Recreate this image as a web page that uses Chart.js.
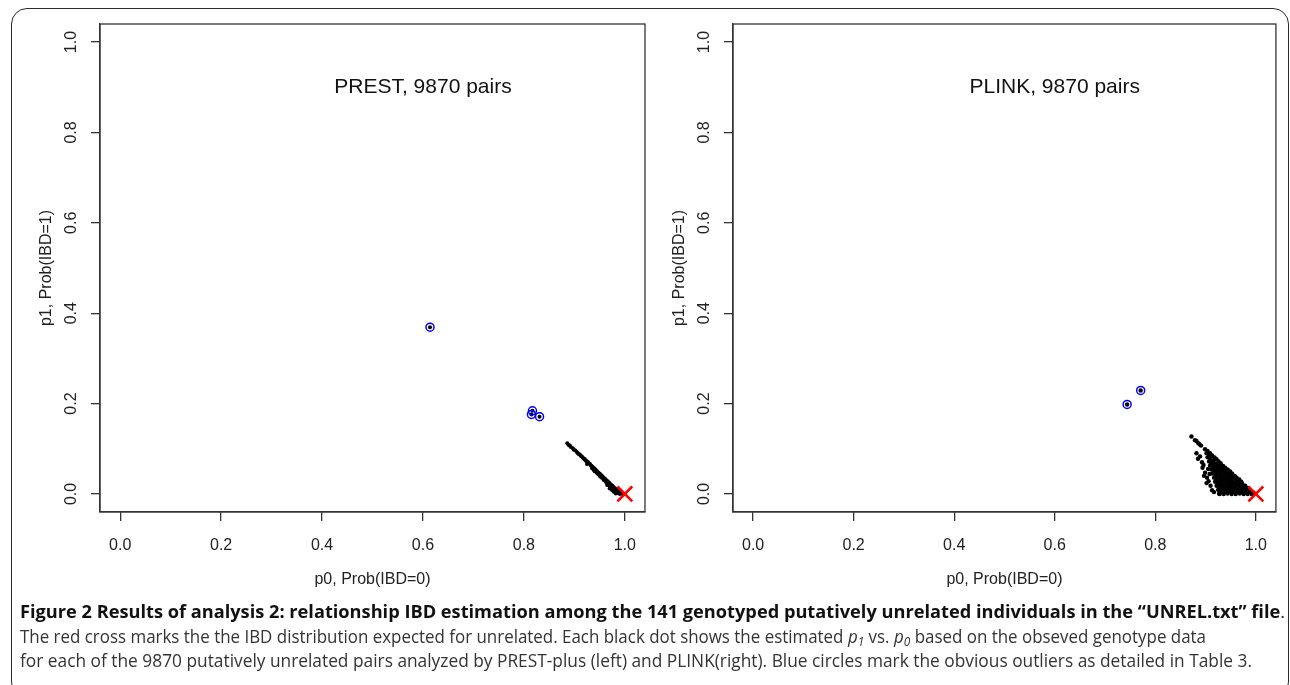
<!DOCTYPE html>
<html><head><meta charset="utf-8">
<script src="https://cdn.jsdelivr.net/npm/chart.js@4.4.1/dist/chart.umd.min.js"></script>
<style>
html,body{margin:0;padding:0;background:#fff;width:1290px;height:685px;overflow:hidden;position:relative;}
#frame{position:absolute;left:11px;top:8px;width:1278px;height:690px;border:1.6px solid #2b2b2b;border-radius:16px;box-sizing:border-box;}
canvas{position:absolute;top:0;}
#c1{left:0;}
#c2{left:633px;}
.cap{position:absolute;left:20px;white-space:nowrap;font-family:"Liberation Sans Narrow","Open Sans",sans-serif;font-size:18.5px;line-height:20px;color:#333;transform-origin:0 0;}
.cap b{color:#111;}
.cap sub{font-size:70%;vertical-align:-3px;line-height:0;}
</style></head><body>
<div id="frame"></div>
<canvas id="c1" width="660" height="600"></canvas>
<canvas id="c2" width="656" height="600"></canvas>
<div class="cap" id="l1" style="top:601px;"><b>Figure 2 Results of analysis 2: relationship IBD estimation among the 141 genotyped putatively unrelated individuals in the “UNREL.txt” file</b>.</div>
<div class="cap" id="l2" style="top:626px;">The red cross marks the the IBD distribution expected for unrelated. Each black dot shows the estimated <i>p</i><sub><i>1</i></sub> vs. <i>p</i><sub><i>0</i></sub> based on the obseved genotype data</div>
<div class="cap" id="l3" style="top:650px;">for each of the 9870 putatively unrelated pairs analyzed by PREST-plus (left) and PLINK(right). Blue circles mark the obvious outliers as detailed in Table 3.</div>
<script>
// ---------- data ----------
const tickValues = [0, 0.2, 0.4, 0.6, 0.8, 1.0];
const panelTitles = ["PREST, 9870 pairs", "PLINK, 9870 pairs"];
const xAxisTitle = "p0, Prob(IBD=0)";
const yAxisTitle = "p1, Prob(IBD=1)";

// expected IBD for unrelated pairs (red cross)
const expectedP0 = [1.0];
const expectedP1 = [0.0];

// PREST-plus: all pairs (black dots)
const prestP0 = [0.886,0.889,0.891,0.893,0.897,0.899,0.902,0.905,0.907,0.909,0.911,0.913,0.915,0.917,0.919,0.921,0.922,0.924,0.926,0.928,0.929,0.931,0.933,0.934,0.936,0.937,0.939,0.940,0.942,0.943,0.945,0.946,0.948,0.949,0.951,0.952,0.954,0.955,0.957,0.958,0.960,0.961,0.963,0.964,0.966,0.967,0.969,0.970,0.972,0.973,0.975,0.976,0.978,0.979,0.981,0.982,0.984,0.985,0.987,0.988,0.990,0.992,0.994,0.996,0.998,
  0.925,0.935,0.940,0.945,0.950,0.955,0.958,0.962,0.965,0.968,0.971,0.974,0.977,0.980,0.983,0.986,0.975,0.965,0.970,0.978,0.982,0.990,0.960,0.952,0.947,0.938,
  0.614,0.817,0.815,0.831];
const prestP1 = [0.112,0.108,0.107,0.104,0.101,0.098,0.096,0.093,0.090,0.088,0.087,0.084,0.083,0.080,0.078,0.077,0.074,0.073,0.071,0.069,0.067,0.066,0.063,0.062,0.060,0.058,0.057,0.055,0.054,0.052,0.050,0.049,0.047,0.045,0.044,0.042,0.041,0.039,0.037,0.036,0.034,0.033,0.031,0.029,0.028,0.026,0.025,0.023,0.021,0.020,0.018,0.017,0.015,0.013,0.012,0.010,0.008,0.007,0.005,0.004,0.003,0.002,0.001,0.000,0.000,
  0.066,0.057,0.050,0.046,0.040,0.035,0.031,0.027,0.024,0.020,0.017,0.014,0.011,0.008,0.005,0.002,0.008,0.020,0.012,0.005,0.001,0.000,0.030,0.038,0.044,0.054,
  0.369,0.184,0.176,0.171];
// PREST-plus: obvious outliers (blue circles)
const prestOutP0 = [0.614, 0.817, 0.815, 0.831];
const prestOutP1 = [0.369, 0.184, 0.176, 0.171];

// PLINK: all pairs (black dots)
const plinkP0 = [0.872,0.879,0.882,0.885,0.888,0.891,
  0.882,0.885,0.889,0.893,0.896,0.894,0.899,0.897,0.903,0.906,0.902,0.910,0.913,0.917,0.908,0.905,0.927,
  0.928,0.936,0.944,0.952,0.960,0.968,0.976,0.984,0.992,0.998,
  0.931,0.939,0.947,0.955,0.963,0.971,0.979,0.987,0.994,
  0.925,0.933,0.941,0.949,0.957,0.965,0.973,0.981,0.988,
  0.928,0.936,0.944,0.952,0.960,0.968,0.976,0.984,
  0.922,0.930,0.938,0.946,0.954,0.962,0.970,0.979,
  0.925,0.933,0.941,0.949,0.957,0.965,0.973,
  0.919,0.927,0.935,0.943,0.951,0.959,0.966,0.971,
  0.922,0.930,0.938,0.946,0.954,0.962,0.967,
  0.917,0.925,0.933,0.941,0.949,0.956,0.962,
  0.920,0.928,0.936,0.944,0.952,0.958,
  0.914,0.922,0.930,0.938,0.946,0.953,
  0.917,0.925,0.933,0.941,0.949,
  0.912,0.920,0.928,0.936,0.944,
  0.915,0.923,0.931,0.939,
  0.909,0.917,0.925,0.935,
  0.912,0.920,0.930,
  0.907,0.915,0.926,
  0.910,0.918,0.922,
  0.904,0.911,0.918,
  0.907,0.913,
  0.902,0.909,
  0.904,
  0.899,
  0.744,0.771];
const plinkP1 = [0.127,0.119,0.117,0.113,0.110,0.107,
  0.090,0.078,0.083,0.070,0.064,0.058,0.047,0.040,0.036,0.028,0.024,0.018,0.008,0.004,0.044,0.055,0.001,
  0.000,0.000,0.001,0.000,0.000,0.001,0.000,0.000,0.000,0.001,
  0.005,0.004,0.005,0.004,0.005,0.004,0.005,0.004,0.004,
  0.009,0.010,0.009,0.008,0.010,0.009,0.009,0.010,0.009,
  0.014,0.013,0.014,0.013,0.014,0.013,0.014,0.013,
  0.018,0.019,0.018,0.017,0.018,0.019,0.018,0.018,
  0.023,0.022,0.023,0.022,0.023,0.022,0.023,
  0.027,0.026,0.028,0.027,0.027,0.026,0.028,0.027,
  0.032,0.031,0.032,0.031,0.032,0.031,0.032,
  0.036,0.037,0.036,0.035,0.036,0.037,0.036,
  0.041,0.040,0.041,0.040,0.041,0.040,
  0.045,0.046,0.045,0.044,0.045,0.045,
  0.050,0.049,0.050,0.049,0.050,
  0.054,0.055,0.054,0.053,0.054,
  0.059,0.058,0.059,0.058,
  0.063,0.064,0.063,0.062,
  0.068,0.067,0.068,
  0.072,0.073,0.072,
  0.077,0.076,0.077,
  0.081,0.082,0.081,
  0.086,0.085,
  0.090,0.090,
  0.095,
  0.099,
  0.198,0.229];
// PLINK: obvious outliers (blue circles)
const plinkOutP0 = [0.744, 0.771];
const plinkOutP1 = [0.198, 0.229];

// ---------- drawing ----------
const FONT = '"Liberation Sans", Arial, Helvetica, sans-serif';
const INK = '#222';
const LINE = '#333';
const pts = (xs, ys) => xs.map((v, i) => ({x: v, y: ys[i]}));

const boxPlugin = {
  id: 'rbox',
  afterDatasetsDraw(chart) {
    const a = chart.chartArea, ctx = chart.ctx;
    ctx.save();
    ctx.strokeStyle = LINE; ctx.lineWidth = 1.3;
    ctx.strokeRect(a.left, a.top, a.right - a.left, a.bottom - a.top);
    ctx.restore();
  }
};
const labelPlugin = {
  id: 'panelLabel',
  afterDatasetsDraw(chart, args, opts) {
    const ctx = chart.ctx, sx = chart.scales.x, sy = chart.scales.y;
    ctx.save();
    ctx.font = '21px ' + FONT; ctx.fillStyle = '#111';
    ctx.textAlign = 'center'; ctx.textBaseline = 'middle';
    ctx.fillText(opts.text, sx.getPixelForValue(opts.at[0]), sy.getPixelForValue(opts.at[1]));
    ctx.restore();
  }
};

function axisCommon() {
  return {
    type: 'linear', min: -0.04, max: 1.04,
    afterBuildTicks: s => { s.ticks = tickValues.map(v => ({value: v})); },
    grid: {display: true, drawOnChartArea: false, drawTicks: true, tickLength: 9, color: LINE, lineWidth: 1.3},
    border: {display: true, color: LINE, width: 1.3},
  };
}

function makeChart(id, black, outliers, title, padRight, dotR) {
  const xs = axisCommon(), ys = axisCommon();
  xs.position = 'bottom';
  xs.afterFit = s => { s.height = 88; };
  xs.ticks = {font: {family: FONT, size: 16}, color: INK, padding: 15, maxRotation: 0, callback: v => Number(v).toFixed(1)};
  xs.title = {display: true, text: xAxisTitle, font: {family: FONT, size: 16}, color: INK, padding: {top: 0, bottom: 11}};
  ys.position = 'left';
  ys.afterFit = s => { s.width = 100; };
  ys.ticks = {font: {family: FONT, size: 16}, color: INK, padding: 8, minRotation: 90, maxRotation: 90, crossAlign: 'center', callback: v => Number(v).toFixed(1)};
  ys.title = {display: true, text: yAxisTitle, font: {family: FONT, size: 16}, color: INK, padding: {top: 37, bottom: 0}};
  return new Chart(document.getElementById(id), {
    type: 'scatter',
    data: {datasets: [
      {label: 'expected', data: pts(expectedP0, expectedP1), pointStyle: 'crossRot', pointRadius: 10.5, borderColor: '#ff0000', borderWidth: 2.6, backgroundColor: 'rgba(0,0,0,0)'},
      {label: 'outliers', data: outliers, pointStyle: 'circle', pointRadius: 4, borderColor: '#0000ff', borderWidth: 1.5, backgroundColor: 'rgba(0,0,0,0)'},
      {label: 'pairs', data: black, pointStyle: 'circle', pointRadius: dotR, borderWidth: 0, backgroundColor: '#000'}
    ]},
    options: {
      responsive: false, animation: false, devicePixelRatio: 1,
      layout: {padding: {left: 0, top: 24, right: padRight, bottom: 0}},
      scales: {x: xs, y: ys},
      plugins: {legend: {display: false}, tooltip: {enabled: false}, title: {display: false},
        panelLabel: {text: title, at: [0.6, 0.9]}},
      events: []
    },
    plugins: [boxPlugin, labelPlugin]
  });
}

makeChart('c1', pts(prestP0, prestP1), pts(prestOutP0, prestOutP1), panelTitles[0], 15, 2);
makeChart('c2', pts(plinkP0, plinkP1), pts(plinkOutP0, plinkOutP1), panelTitles[1], 12, 2.2);

// fit caption lines to the measured widths of the figure caption
function fitCaption() {
  const l1 = document.getElementById('l1'), l2 = document.getElementById('l2'), l3 = document.getElementById('l3');
  const s1 = 1265 / l1.getBoundingClientRect().width;
  const s2 = 1186 / l2.getBoundingClientRect().width;
  const s3 = 1232 / l3.getBoundingClientRect().width;
  l1.style.transform = 'scaleX(' + s1 + ')';
  l2.style.transform = 'scaleX(' + s2 + ')';
  l3.style.transform = 'scaleX(' + s3 + ')';
}
if (document.fonts && document.fonts.ready) document.fonts.ready.then(fitCaption); else fitCaption();
</script>
</body></html>
